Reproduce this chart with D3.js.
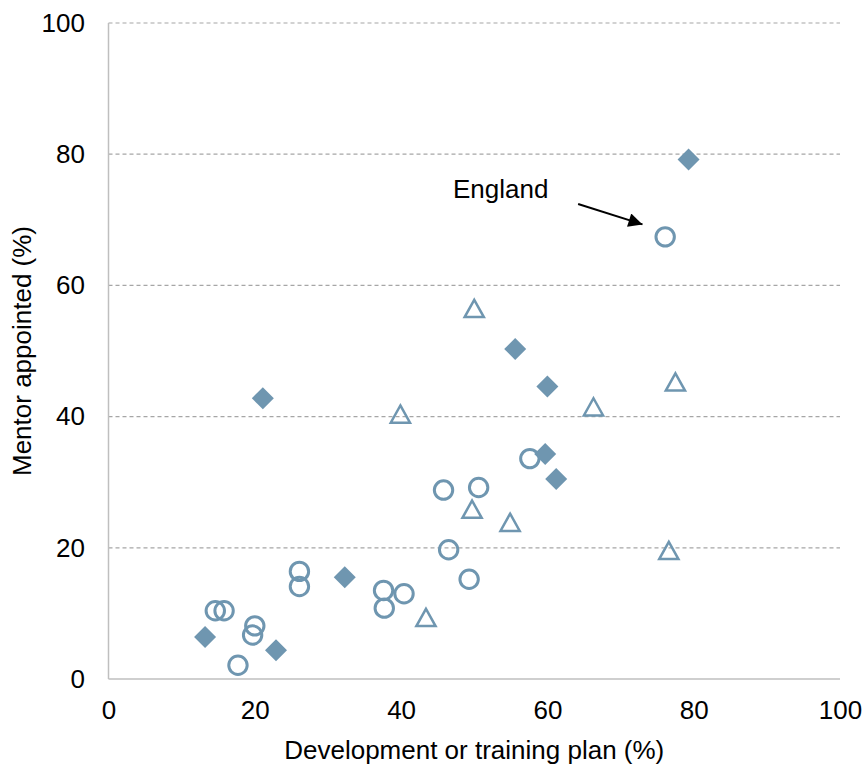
<!DOCTYPE html>
<html>
<head>
<meta charset="utf-8">
<script src="https://cdn.jsdelivr.net/npm/d3@7"></script>
<style>
html,body{margin:0;padding:0;background:#fff;}
svg{display:block;}
text{font-family:"Liberation Sans",Arial,sans-serif;fill:#000;}
</style>
</head>
<body>
<svg id="chart" width="862" height="764"></svg>
<script>
// ---- data ----
const diamondX = [79.3, 55.6, 60.0, 21.1, 59.7, 61.2, 32.3, 13.2, 22.9];
const diamondY = [79.2, 50.3, 44.6, 42.8, 34.3, 30.5, 15.5, 6.4, 4.4];

const triangleX = [50.0, 77.5, 66.3, 39.9, 49.7, 54.9, 76.6, 43.4];
const triangleY = [56.5, 45.3, 41.5, 40.4, 25.9, 23.9, 19.6, 9.4];

const circleX = [76.1, 57.6, 45.8, 50.6, 46.5, 49.3, 26.1, 26.1, 37.6, 37.7, 40.4, 14.6, 15.8, 20.0, 19.7, 17.7];
const circleY = [67.4, 33.6, 28.8, 29.2, 19.7, 15.2, 16.4, 14.1, 13.5, 10.8, 13.0, 10.4, 10.4, 8.1, 6.7, 2.1];

const xTicks = [0, 20, 40, 60, 80, 100];
const yTicks = [0, 20, 40, 60, 80, 100];

const annotationLabel = "England";
const annotationFrom = [64.2, 72.4];
const annotationTo = [73.0, 69.3];
const annotationTextPos = [47.1, 73.3];

const xTitle = "Development or training plan (%)";
const yTitle = "Mentor appointed (%)";

// ---- drawing ----
const svg = d3.select("#chart");
const color = "#6f96b0";
const fontSize = 26;

const x = d3.scaleLinear().domain([0, 100]).range([108.5, 840]);
const y = d3.scaleLinear().domain([0, 100]).range([679, 23]);

// gridlines
svg.append("g").selectAll("line")
  .data(yTicks.filter(d => d > 0))
  .join("line")
  .attr("x1", x(0)).attr("x2", x(100))
  .attr("y1", d => y(d)).attr("y2", d => y(d))
  .attr("stroke", "#a6a6a6").attr("stroke-width", 1.2)
  .attr("stroke-dasharray", "4,3");

// axis lines
svg.append("line").attr("x1", x(0)).attr("x2", x(0)).attr("y1", y(0)).attr("y2", y(100))
  .attr("stroke", "#bfbfbf").attr("stroke-width", 1.5);
svg.append("line").attr("x1", x(0)).attr("x2", x(100)).attr("y1", y(0)).attr("y2", y(0))
  .attr("stroke", "#bfbfbf").attr("stroke-width", 1.5);

// axes (labels only)
const xAxis = svg.append("g").attr("transform", `translate(0,${y(0)})`)
  .call(d3.axisBottom(x).tickValues(xTicks).tickSize(0).tickPadding(22).tickFormat(d3.format("d")));
const yAxis = svg.append("g").attr("transform", `translate(${x(0)},0)`)
  .call(d3.axisLeft(y).tickValues(yTicks).tickSize(0).tickPadding(23.5).tickFormat(d3.format("d")));
[xAxis, yAxis].forEach(a => {
  a.select(".domain").remove();
  a.selectAll("text").attr("font-size", fontSize)
    .attr("font-family", '"Liberation Sans", Arial, sans-serif').attr("fill", "#000");
});

// axis titles
svg.append("text").attr("x", (x(0) + x(100)) / 2).attr("y", 759)
  .attr("text-anchor", "middle").attr("font-size", fontSize).text(xTitle);
svg.append("text").attr("transform", `translate(31,${(y(0) + y(100)) / 2}) rotate(-90)`)
  .attr("text-anchor", "middle").attr("font-size", fontSize).text(yTitle);

// circles
svg.append("g").selectAll("circle")
  .data(circleX.map((v, i) => [v, circleY[i]]))
  .join("circle")
  .attr("cx", d => x(d[0])).attr("cy", d => y(d[1])).attr("r", 9.2)
  .attr("fill", "none").attr("stroke", color).attr("stroke-width", 3);

// triangles
const triPath = "M0,-8.5L9.6,8.7L-9.6,8.7Z";
svg.append("g").selectAll("path")
  .data(triangleX.map((v, i) => [v, triangleY[i]]))
  .join("path")
  .attr("transform", d => `translate(${x(d[0])},${y(d[1])})`)
  .attr("d", triPath)
  .attr("fill", "none").attr("stroke", color).attr("stroke-width", 2.5);

// diamonds
const diaPath = "M0,-11L11,0L0,11L-11,0Z";
svg.append("g").selectAll("path")
  .data(diamondX.map((v, i) => [v, diamondY[i]]))
  .join("path")
  .attr("transform", d => `translate(${x(d[0])},${y(d[1])})`)
  .attr("d", diaPath)
  .attr("fill", color);

// annotation
svg.append("defs").append("marker")
  .attr("id", "arrow").attr("viewBox", "0 0 10 10")
  .attr("refX", 10).attr("refY", 5)
  .attr("markerWidth", 8.5).attr("markerHeight", 7)
  .attr("markerUnits", "strokeWidth")
  .attr("orient", "auto")
  .append("path").attr("d", "M0,0L10,5L0,10Z").attr("fill", "#000");

svg.append("line")
  .attr("x1", x(annotationFrom[0])).attr("y1", y(annotationFrom[1]))
  .attr("x2", x(annotationTo[0])).attr("y2", y(annotationTo[1]))
  .attr("stroke", "#000").attr("stroke-width", 2)
  .attr("marker-end", "url(#arrow)");

svg.append("text")
  .attr("x", x(annotationTextPos[0])).attr("y", y(annotationTextPos[1]))
  .attr("font-size", fontSize).text(annotationLabel);
</script>
</body>
</html>
